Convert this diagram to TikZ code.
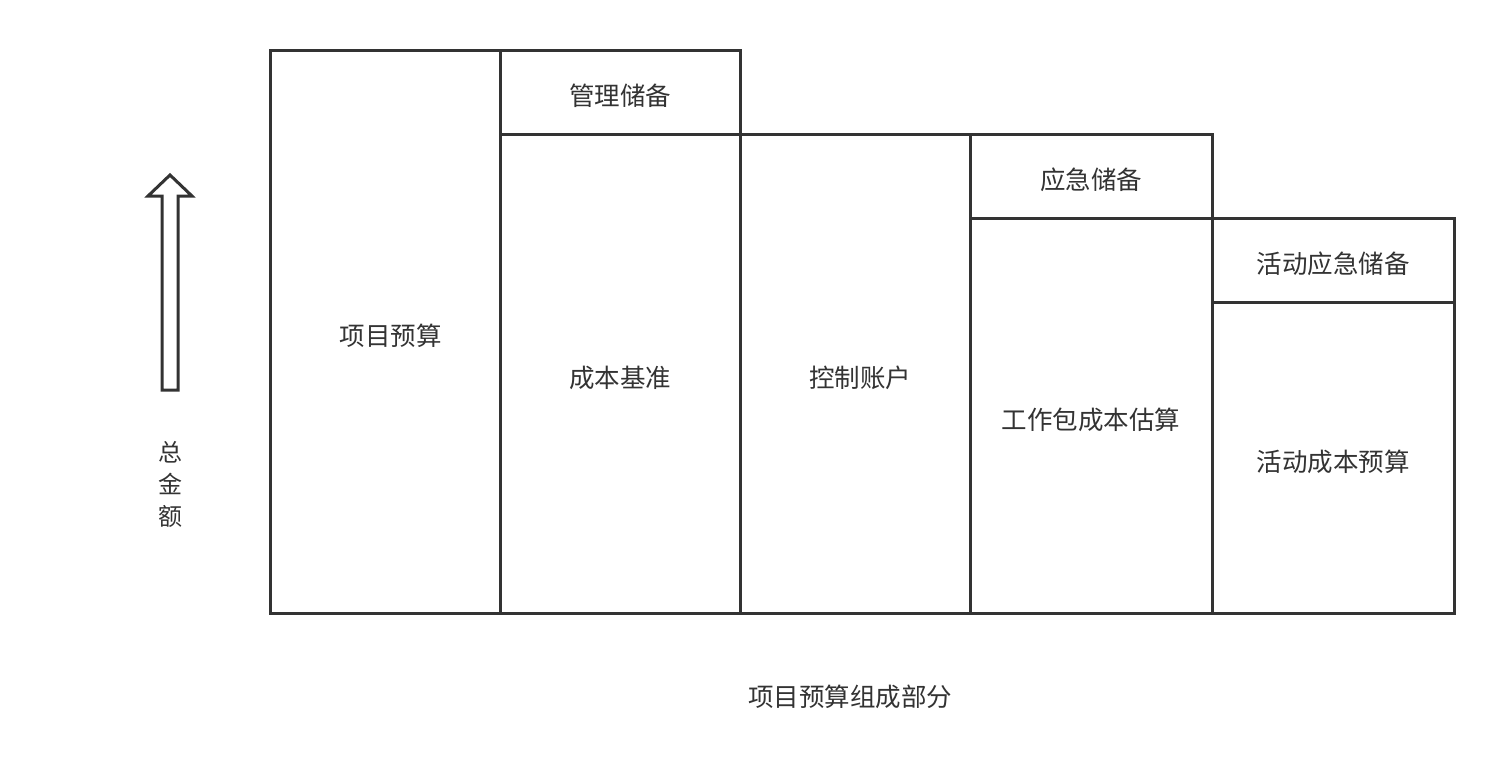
\documentclass[tikz,border=0pt]{standalone}
\usepackage{fontspec}
\setmainfont{Noto Sans CJK SC}
\definecolor{ink}{HTML}{333333}
\begin{document}
\begin{tikzpicture}[x=1pt,y=-1pt,
  cell/.style={draw=ink,line width=3pt,rectangle,inner sep=0pt,outer sep=0pt,
    text=ink,font=\fontsize{25.5}{30}\selectfont,text height=27pt,text depth=0pt},
  lbl/.style={text=ink,font=\fontsize{25.5}{30}\selectfont,inner sep=0pt}]
\useasboundingbox (0,0) rectangle (1504,782);
\fill[white] (0,0) rectangle (1504,782);
% boxes
\node[cell,minimum width=230pt,minimum height=563pt] (xmys) at (385,331.5) {\hspace*{11pt}项目预算};
\node[cell,minimum width=240pt,minimum height=84pt] (glcb) at (620,92) {管理储备};
\node[cell,minimum width=240pt,minimum height=479pt] (cbjz) at (620,373.5) {成本基准};
\node[cell,minimum width=230pt,minimum height=479pt] (kzzh) at (855,373.5) {\hspace*{10pt}控制账户};
\node[cell,minimum width=242pt,minimum height=84pt] (yjcb) at (1091,176) {应急储备};
\node[cell,minimum width=242pt,minimum height=395pt] (gzb) at (1091,415.5) {工作包成本估算};
\node[cell,minimum width=242pt,minimum height=84pt] (hdyj) at (1333,260) {活动应急储备};
\node[cell,minimum width=242pt,minimum height=311pt] (hdcb) at (1333,457.5) {活动成本预算};
% arrow
\draw[ink,line width=3pt,line join=miter]
  (162,390) -- (162,196) -- (148,196) -- (170,175) -- (192,196) -- (178,196) -- (178,390) -- cycle;
\node[lbl,align=center,font=\fontsize{24}{32}\selectfont] (zje) at (170,484) {总\\金\\额};
\node[lbl] (title) at (850,697) {项目预算组成部分};
\end{tikzpicture}
\end{document}
